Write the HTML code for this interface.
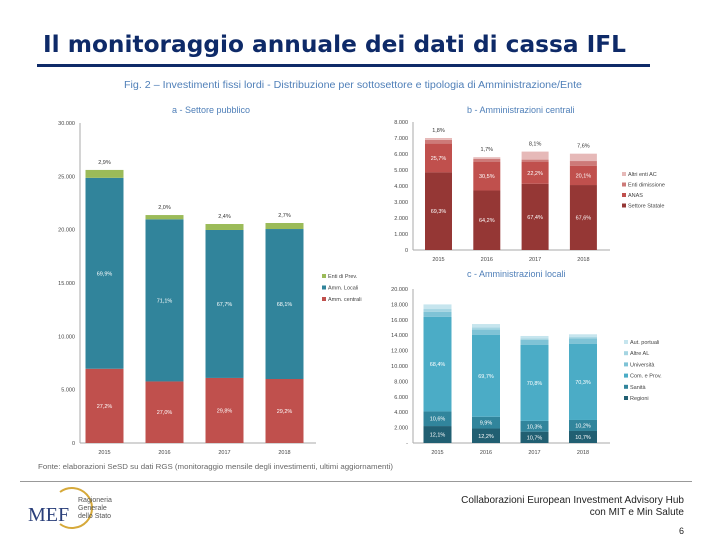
<!DOCTYPE html>
<html><head><meta charset="utf-8">
<style>
html,body{margin:0;padding:0;background:#fff;}
svg{display:block;font-family:"Liberation Sans",sans-serif;}
</style></head>
<body>
<svg id="s" width="720" height="540" viewBox="0 0 720 540">
<text x="43" y="52" font-family="DejaVu Sans,Liberation Sans,sans-serif" font-weight="bold" font-size="23" fill="#0e2a68" textLength="583" lengthAdjust="spacingAndGlyphs">Il monitoraggio annuale dei dati di cassa IFL</text>
<rect x="37" y="64" width="613" height="3" fill="#0e2a68"/>
<text x="124" y="88" font-size="10" fill="#4f7fb8" textLength="458" lengthAdjust="spacingAndGlyphs">Fig. 2 – Investimenti fissi lordi - Distribuzione per sottosettore e tipologia di Amministrazione/Ente</text>
<text x="172" y="113" font-size="9" fill="#4f7fb8">a - Settore pubblico</text>
<text x="467" y="113" font-size="9" fill="#4f7fb8">b - Amministrazioni centrali</text>
<text x="467" y="277" font-size="9" fill="#4f7fb8">c - Amministrazioni locali</text>
<text x="38" y="469" font-size="7.5" fill="#666" textLength="355" lengthAdjust="spacingAndGlyphs">Fonte: elaborazioni SeSD su dati RGS (monitoraggio mensile degli investimenti, ultimi aggiornamenti)</text>
<rect x="20" y="481" width="672" height="1" fill="#999"/>
<g>
<path d="M60 492 A20 20 0 1 1 60 524" fill="none" stroke="#d6a93a" stroke-width="2"/>
<text x="28" y="521" font-size="20" fill="#2a3f7a" font-family="Liberation Serif,serif">MEF</text>
<text x="78" y="502" font-size="7" fill="#555">Ragioneria</text>
<text x="78" y="510" font-size="7" fill="#555">Generale</text>
<text x="78" y="518" font-size="7" fill="#555">dello Stato</text>
</g>
<text x="684" y="503" font-size="10" fill="#222" text-anchor="end">Collaborazioni European Investment Advisory Hub</text>
<text x="684" y="515" font-size="10" fill="#222" text-anchor="end">con MIT e Min Salute</text>
<text x="684" y="534" font-size="9" fill="#222" text-anchor="end">6</text>
</svg>
<script>
const years = ["2015","2016","2017","2018"];
// chart a
const aCentrali = [6960, 5770, 6100, 6000];
const aLocali = [17900, 15200, 13870, 14060];
const aPrev = [740, 400, 560, 565];
const aPctCentr = ["27,2%","27,0%","29,8%","29,2%"];
const aPctLoc = ["69,9%","71,1%","67,7%","68,1%"];
const aPctPrev = ["2,9%","2,0%","2,4%","2,7%"];
const aTicks = [0,5000,10000,15000,20000,25000,30000];
const aTickLabels = ["0","5.000","10.000","15.000","20.000","25.000","30.000"];
// chart b
const bStatale = [4850, 3720, 4140, 4060];
const bAnas = [1800, 1780, 1360, 1210];
const bEnti = [230, 200, 150, 290];
const bAltri = [120, 100, 500, 460];
const bPctStat = ["69,3%","64,2%","67,4%","67,6%"];
const bPctAnas = ["25,7%","30,5%","22,2%","20,1%"];
const bPctAltri = ["1,8%","1,7%","8,1%","7,6%"];
const bTicks = [0,1000,2000,3000,4000,5000,6000,7000,8000];
const bTickLabels = ["0","1.000","2.000","3.000","4.000","5.000","6.000","7.000","8.000"];
// chart c
const cRegioni = [2200, 1880, 1470, 1560];
const cSanita = [1900, 1530, 1400, 1430];
const cComuni = [12300, 10620, 9860, 9870];
const cUniv = [650, 700, 650, 740];
const cAltre = [350, 300, 220, 160];
const cPorti = [600, 420, 300, 360];
const cPctReg = ["12,1%","12,2%","10,7%","10,7%"];
const cPctSan = ["10,6%","9,9%","10,3%","10,2%"];
const cPctCom = ["68,4%","69,7%","70,8%","70,3%"];
const cTicks = [0,2000,4000,6000,8000,10000,12000,14000,16000,18000,20000];
const cTickLabels = ["-","2.000","4.000","6.000","8.000","10.000","12.000","14.000","16.000","18.000","20.000"];

const NS="http://www.w3.org/2000/svg", svg=document.getElementById('s');
function mk(t,a,txt){const e=document.createElementNS(NS,t);for(const k in a)e.setAttribute(k,a[k]);if(txt!==undefined)e.textContent=txt;svg.appendChild(e);return e;}

function chart(cfg){
  const y=v=>cfg.y0-(v/cfg.max)*(cfg.y0-cfg.y1);
  let ax=mk('line',{x1:cfg.ax,y1:cfg.y1,x2:cfg.ax,y2:cfg.y0,stroke:'#aaa','stroke-width':1});
  
  
  let bx=mk('line',{x1:cfg.ax,y1:cfg.y0,x2:cfg.xr,y2:cfg.y0,stroke:'#aaa','stroke-width':1});
  
  
  cfg.ticks.forEach((t,i)=>{
    let tl=mk('text',{x:cfg.ax-5,y:y(t)+2,'font-size':5.5,fill:'#444','text-anchor':'end'},cfg.tickLabels[i]);
    
    
  });
  years.forEach((yr,i)=>{
    const cx=cfg.c0+i*cfg.step;
    let base=0;
    cfg.series.forEach((s,si)=>{
      const v=s.vals[i];
      const r=mk('rect',{x:cx-cfg.w/2,y:y(base+v),width:cfg.w,height:y(base)-y(base+v),fill:s.color});
      
      
      if(s.pct){
        const ly=s.above?y(base+v)-6:(y(base)+y(base+v))/2+2;
        const lt=mk('text',{x:cx,y:ly,'font-size':5.5,fill:s.above?'#333':'#fff','text-anchor':'middle'},s.pct[i]);
        
        
      }
      base+=v;
    });
    const xl=mk('text',{x:cx,y:cfg.y0+11,'font-size':5.5,fill:'#444','text-anchor':'middle'},yr);
    
    
  });
  cfg.legend.forEach((l,i)=>{
    const ly=cfg.ly+i*cfg.lstep;
    const sw=mk('rect',{x:cfg.lx,y:ly-4,width:4,height:4,fill:l[1]});
    
    
    const lt=mk('text',{x:cfg.lx+6,y:ly,'font-size':5.5,fill:'#444'},l[0]);
    
    
  });
}
chart({id:'a',ax:80,xr:316,y0:443,y1:123,max:30000,c0:104.5,step:60,w:38,ticks:aTicks,tickLabels:aTickLabels,
  series:[{key:'centrali',vals:aCentrali,color:'#c0504d',pct:aPctCentr},{key:'locali',vals:aLocali,color:'#31849b',pct:aPctLoc},{key:'prev',vals:aPrev,color:'#9bbb59',pct:aPctPrev,above:true}],
  legend:[["Enti di Prev.","#9bbb59"],["Amm. Locali","#31849b"],["Amm. centrali","#c0504d"]],lx:322,ly:278,lstep:11.5});
chart({id:'b',ax:413,xr:610,y0:250,y1:122,max:8000,c0:438.5,step:48.3,w:27,ticks:bTicks,tickLabels:bTickLabels,
  series:[{key:'statale',vals:bStatale,color:'#953735',pct:bPctStat},{key:'anas',vals:bAnas,color:'#c0504d',pct:bPctAnas},{key:'enti',vals:bEnti,color:'#cd7a78'},{key:'altri',vals:bAltri,color:'#e6b9b8',pct:bPctAltri,above:true}],
  legend:[["Altri enti AC","#e6b9b8"],["Enti dimissione","#cd7a78"],["ANAS","#c0504d"],["Settore Statale","#953735"]],lx:622,ly:176,lstep:10.5});
chart({id:'c',ax:413,xr:610,y0:443,y1:289,max:20000,c0:437.5,step:48.5,w:28,ticks:cTicks,tickLabels:cTickLabels,
  series:[{key:'regioni',vals:cRegioni,color:'#215f72',pct:cPctReg},{key:'sanita',vals:cSanita,color:'#31859c',pct:cPctSan},{key:'comuni',vals:cComuni,color:'#4bacc6',pct:cPctCom},{key:'univ',vals:cUniv,color:'#7fc3d6'},{key:'altre',vals:cAltre,color:'#a5d5e2'},{key:'porti',vals:cPorti,color:'#c6e5ee'}],
  legend:[["Aut. portuali","#c6e5ee"],["Altre AL","#a5d5e2"],["Università","#7fc3d6"],["Com. e Prov.","#4bacc6"],["Sanità","#31859c"],["Regioni","#215f72"]],lx:624,ly:344,lstep:11.2});
</script>
</body></html>
